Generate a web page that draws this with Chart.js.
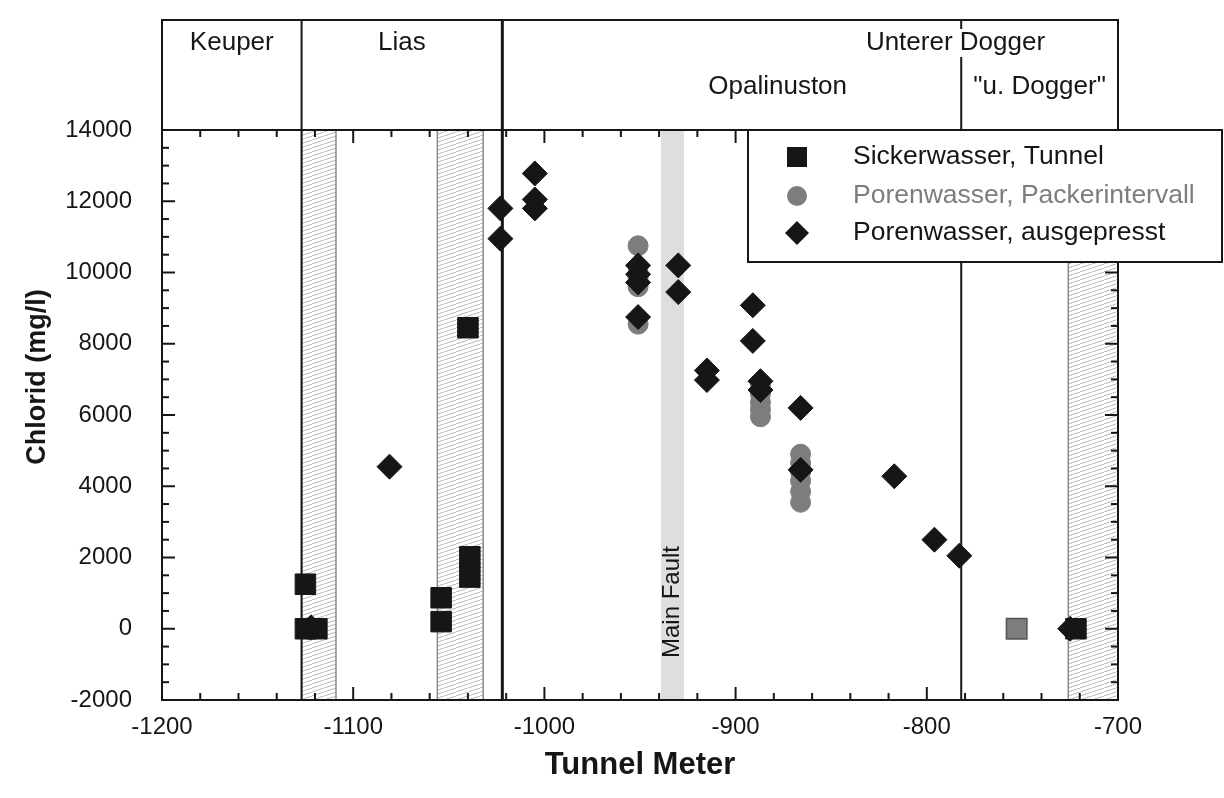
<!DOCTYPE html>
<html>
<head>
<meta charset="utf-8">
<script src="https://cdn.jsdelivr.net/npm/chart.js@4.4.1/dist/chart.umd.min.js"></script>
<style>
  html, body { margin: 0; padding: 0; background: #fff; }
  #wrap { width: 1224px; height: 798px; }
</style>
</head>
<body>
<div id="wrap"><canvas id="chloridChart" width="1224" height="798"></canvas></div>
<script>
// Sickerwasser, Tunnel (black squares)
const sickerX = [-1125, -1125, -1119, -1054, -1054, -1039, -1039, -1040, -722];
const sickerY = [1250, 0, 0, 870, 200, 2020, 1450, 8450, 0];
// single grey square near the end of the tunnel
const sickerGreyX = [-753];
const sickerGreyY = [0];
// Porenwasser, Packerintervall (grey circles)
const packerX = [-951, -951, -951, -951, -951, -887, -887, -887, -887, -887, -866, -866, -866, -866, -866, -866];
const packerY = [10750, 10150, 9850, 9600, 8550, 6850, 6600, 6350, 6150, 5950, 4900, 4650, 4400, 4150, 3850, 3550];
// Porenwasser, ausgepresst (black diamonds)
const pressX = [-1122, -1081, -1023, -1023, -1005, -1005, -1005, -951, -951, -951, -951, -930, -930, -915, -915, -891, -891, -887, -887, -866, -866, -817, -796, -783, -725];
const pressY = [40, 4550, 11800, 10950, 12780, 12050, 11800, 10200, 9950, 9720, 8750, 10200, 9450, 7250, 6980, 9080, 8080, 6950, 6700, 6200, 4460, 4280, 2500, 2050, 0];

const seriesLabels = ['Sickerwasser, Tunnel', 'Porenwasser, Packerintervall', 'Porenwasser, ausgepresst'];

// geology
const formationBounds = [-1127, -1022, -782];
const hatchBands = [[-1127, -1109], [-1056, -1032], [-726, -700]];
const faultBand = [-939, -927];
const upperUnits = [['Keuper', -1200, -1127], ['Lias', -1127, -1022], ['Unterer Dogger', -785, -785]];
const lowerUnits = [['Opalinuston', -878, -878], ['"u. Dogger"', -782, -700]];

const xTicks = { min: -1200, max: -700, major: 100, minor: 20 };
const yTicks = { min: -2000, max: 14000, major: 2000, minor: 500 };

const FONT = "'Liberation Sans', Arial, Helvetica, sans-serif";
const INK = '#161616';
const GREY = '#7d7d7d';

function toPoints(xs, ys) {
  return xs.map((x, i) => ({ x: x, y: ys[i] }));
}

function hatchPattern(ctx) {
  const c = document.createElement('canvas');
  c.width = 12;
  c.height = 4;
  const g = c.getContext('2d');
  g.strokeStyle = '#b8b8b8';
  g.lineWidth = 1;
  g.beginPath();
  g.moveTo(0, 4);
  g.lineTo(12, 0);
  g.stroke();
  return ctx.createPattern(c, 'repeat');
}

function line(ctx, x1, y1, x2, y2) {
  ctx.beginPath();
  ctx.moveTo(x1, y1);
  ctx.lineTo(x2, y2);
  ctx.stroke();
}

const headerTop = 20;

const geologyPlugin = {
  id: 'geology',
  beforeDatasetsDraw(chart) {
    const { ctx, chartArea: a, scales: { x } } = chart;
    ctx.save();

    // hatched intervals
    const pat = hatchPattern(ctx);
    hatchBands.forEach(([x0, x1]) => {
      const p0 = x.getPixelForValue(x0), p1 = x.getPixelForValue(x1);
      ctx.fillStyle = pat;
      ctx.fillRect(p0, a.top, p1 - p0, a.bottom - a.top);
      ctx.strokeStyle = '#8a8a8a';
      ctx.lineWidth = 1.5;
      line(ctx, p0, a.top, p0, a.bottom);
      line(ctx, p1, a.top, p1, a.bottom);
    });

    // main fault
    const f0 = x.getPixelForValue(faultBand[0]), f1 = x.getPixelForValue(faultBand[1]);
    ctx.fillStyle = '#dedede';
    ctx.fillRect(f0, a.top, f1 - f0, a.bottom - a.top);
    ctx.save();
    ctx.translate((f0 + f1) / 2, a.bottom - 98);
    ctx.rotate(-Math.PI / 2);
    ctx.fillStyle = INK;
    ctx.font = '24px ' + FONT;
    ctx.textAlign = 'center';
    ctx.textBaseline = 'middle';
    ctx.fillText('Main Fault', 0, 0);
    ctx.restore();

    // formation boundaries
    ctx.strokeStyle = INK;
    formationBounds.forEach((v, i) => {
      const px = x.getPixelForValue(v);
      ctx.lineWidth = i === 1 ? 3 : 2;
      if (i === 2) {
        line(ctx, px, headerTop, px, headerTop + 9);
        line(ctx, px, headerTop + 37, px, a.bottom);
      } else {
        line(ctx, px, headerTop, px, a.bottom);
      }
    });

    // header box
    ctx.lineWidth = 2;
    ctx.strokeRect(a.left, headerTop, a.right - a.left, a.top - headerTop);
    ctx.fillStyle = INK;
    ctx.font = '26px ' + FONT;
    ctx.textAlign = 'center';
    ctx.textBaseline = 'alphabetic';
    upperUnits.forEach(([t, v0, v1]) => {
      const cx = (x.getPixelForValue(v0) + x.getPixelForValue(v1)) / 2;
      ctx.fillText(t, cx, headerTop + 30);
    });
    lowerUnits.forEach(([t, v0, v1]) => {
      const cx = (x.getPixelForValue(v0) + x.getPixelForValue(v1)) / 2;
      ctx.fillText(t, cx, headerTop + 74);
    });

    ctx.restore();
  },
  afterDatasetsDraw(chart) {
    const { ctx, chartArea: a, scales: { x, y } } = chart;
    ctx.save();
    ctx.strokeStyle = INK;
    ctx.lineWidth = 2;

    // inward ticks
    for (let v = xTicks.min; v <= xTicks.max; v += xTicks.minor) {
      const px = x.getPixelForValue(v);
      const len = v % xTicks.major === 0 ? 13 : 7;
      line(ctx, px, a.bottom, px, a.bottom - len);
      line(ctx, px, a.top, px, a.top + len);
    }
    for (let v = yTicks.min; v <= yTicks.max; v += yTicks.minor) {
      const py = y.getPixelForValue(v);
      const len = v % yTicks.major === 0 ? 13 : 7;
      line(ctx, a.left, py, a.left + len, py);
      line(ctx, a.right, py, a.right - len, py);
    }
    ctx.strokeRect(a.left, a.top, a.right - a.left, a.bottom - a.top);

    // y title
    ctx.save();
    ctx.translate(38, 377);
    ctx.rotate(-Math.PI / 2);
    ctx.fillStyle = INK;
    ctx.font = 'bold 27px ' + FONT;
    ctx.textAlign = 'center';
    ctx.textBaseline = 'middle';
    ctx.fillText('Chlorid (mg/l)', 0, 0);
    ctx.restore();

    // legend
    const lx = 748, ly = a.top, lw = 474, lh = 132;
    ctx.fillStyle = '#fff';
    ctx.fillRect(lx, ly, lw, lh);
    ctx.strokeRect(lx, ly, lw, lh);
    const rows = [157, 196, 233];
    const mx = 797;
    ctx.font = '26.5px ' + FONT;
    ctx.textAlign = 'left';
    ctx.textBaseline = 'middle';
    // square
    ctx.fillStyle = INK;
    ctx.fillRect(mx - 10, rows[0] - 10, 20, 20);
    ctx.fillText(seriesLabels[0], 853, rows[0]);
    // circle
    ctx.fillStyle = GREY;
    ctx.beginPath();
    ctx.arc(mx, rows[1], 10, 0, Math.PI * 2);
    ctx.fill();
    ctx.fillText(seriesLabels[1], 853, rows[1]);
    // diamond
    ctx.fillStyle = INK;
    ctx.beginPath();
    ctx.moveTo(mx - 12, rows[2]);
    ctx.lineTo(mx, rows[2] - 12);
    ctx.lineTo(mx + 12, rows[2]);
    ctx.lineTo(mx, rows[2] + 12);
    ctx.closePath();
    ctx.fill();
    ctx.fillText(seriesLabels[2], 853, rows[2]);

    ctx.restore();
  }
};

new Chart(document.getElementById('chloridChart'), {
  type: 'scatter',
  data: {
    datasets: [
      {
        label: seriesLabels[0],
        data: toPoints(sickerX, sickerY),
        pointStyle: 'rect',
        pointRadius: 14.5,
        backgroundColor: INK,
        borderColor: INK,
        borderWidth: 1,
        order: 0
      },
      {
        label: seriesLabels[0] + ' (grau)',
        data: toPoints(sickerGreyX, sickerGreyY),
        pointStyle: 'rect',
        pointRadius: 14.5,
        backgroundColor: GREY,
        borderColor: '#555',
        borderWidth: 1.5,
        order: 0
      },
      {
        label: seriesLabels[2],
        data: toPoints(pressX, pressY),
        pointStyle: 'rectRot',
        pointRadius: 12.5,
        backgroundColor: INK,
        borderColor: INK,
        borderWidth: 1,
        order: 1
      },
      {
        label: seriesLabels[1],
        data: toPoints(packerX, packerY),
        pointStyle: 'circle',
        pointRadius: 10,
        backgroundColor: GREY,
        borderColor: GREY,
        borderWidth: 1,
        order: 2
      }
    ]
  },
  options: {
    responsive: false,
    animation: false,
    devicePixelRatio: 1,
    layout: { padding: { top: 130, right: 106, left: 0, bottom: 0 } },
    plugins: {
      legend: { display: false },
      tooltip: { enabled: false }
    },
    scales: {
      x: {
        type: 'linear',
        min: xTicks.min,
        max: xTicks.max,
        afterFit: (s) => { s.height = 98; },
        ticks: {
          stepSize: xTicks.major,
          color: INK,
          padding: 13,
          font: { family: FONT, size: 24 },
          callback: (v) => String(v)
        },
        grid: { display: false, drawTicks: false },
        border: { display: false },
        title: {
          display: true,
          text: 'Tunnel Meter',
          color: INK,
          font: { family: FONT, size: 31, weight: 'bold' },
          padding: { top: 0, bottom: 14 }
        }
      },
      y: {
        type: 'linear',
        min: yTicks.min,
        max: yTicks.max,
        afterFit: (s) => { s.width = 162; },
        ticks: {
          stepSize: yTicks.major,
          color: INK,
          padding: 30,
          font: { family: FONT, size: 24 },
          callback: (v) => String(v)
        },
        grid: { display: false, drawTicks: false },
        border: { display: false }
      }
    }
  },
  plugins: [geologyPlugin]
});
</script>
</body>
</html>
